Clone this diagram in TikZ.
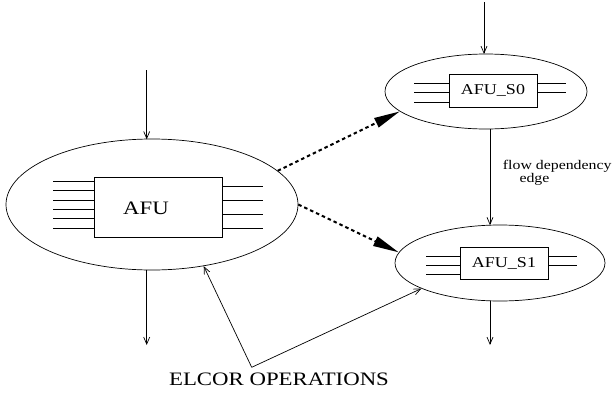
\documentclass[tikz,border=0pt]{standalone}
\usepackage{fontspec}
\setmainfont{Liberation Serif}
\usepackage{graphicx}
\usetikzlibrary{shapes.geometric,arrows.meta}
\newcommand\sx[1]{\scalebox{1.2}[1]{#1}}
\tikzset{
  oval/.style={draw, ellipse, inner sep=0pt, line width=0.7pt},
  unit/.style={draw, rectangle, inner sep=0pt, line width=0.7pt},
  pin/.style={line width=0.7pt},
  arr/.style={line width=0.7pt, -{Straight Barb[length=7pt,width=6pt]}},
  dep/.style={line width=2pt, dash pattern=on 3.5pt off 3pt, -{Triangle[length=26pt,width=10pt]}},
}
\begin{document}
\begin{tikzpicture}[x=1pt,y=-1pt]
\useasboundingbox (0,0) rectangle (614,394);
% ellipses
\node[oval, minimum width=292pt, minimum height=131pt] (E0) at (152,204.5) {};
\node[oval, minimum width=202pt, minimum height=75pt] (S0) at (486,91.5) {};
\node[oval, minimum width=210pt, minimum height=76pt] (S1) at (500,263) {};
% boxes
\node[unit, minimum width=128pt, minimum height=60pt] (B0) at (158,207) {};
\node (T0) at (146,208) {\fontsize{19}{20}\selectfont\sx{AFU}};
\node[unit, minimum width=88pt, minimum height=33pt] (B1) at (493,90.5) {\fontsize{15}{17}\selectfont\sx{AFU\_S0}};
\node[unit, minimum width=88pt, minimum height=32pt] (B2) at (504,263) {\fontsize{15}{17}\selectfont\sx{AFU\_S1}};
% pins of AFU
\foreach \y in {181.7,190.7,200,209.3,218.7,228.3} \draw[pin] (B0.west |- 0,\y) -- (53,\y);
\foreach \y in {186,200,214,228.3} \draw[pin] (B0.east |- 0,\y) -- (263,\y);
% pins of AFU_S0
\foreach \y in {83.3,92.7,102} \draw[pin] (B1.west |- 0,\y) -- (414,\y);
\foreach \y in {83.3,92.7} \draw[pin] (B1.east |- 0,\y) -- (566,\y);
% pins of AFU_S1
\foreach \y in {256,265,274.3} \draw[pin] (B2.west |- 0,\y) -- (426,\y);
\foreach \y in {256,265} \draw[pin] (B2.east |- 0,\y) -- (577,\y);
% in/out arrows
\coordinate (in0) at (146.7,70);
\coordinate (out0) at (146.7,345);
\coordinate (inS0) at (484,2);
\coordinate (outS1) at (490,345);
\draw[arr] (in0) -- (146.7,139.3);
\draw[arr] (146.7,269.7) -- (out0);
\draw[arr] (inS0) -- (484,54);
\draw[arr] (490,300.7) -- (outS1);
\draw[arr] (490,129) -- (490,225.2);
% flow label
\node[anchor=west, inner sep=0pt] (F1) at (502.7,166) {\fontsize{13.2}{14}\selectfont\sx{flow dependency}};
\node[anchor=west, inner sep=0pt] (F2) at (519.3,179) {\fontsize{13.2}{14}\selectfont\sx{edge}};
% dashed arrows
\draw[dep] (E0.15) -- (S0.193);
\draw[dep] (E0.east) -- (S1.174);
% ELCOR
\coordinate (el) at (251.7,367.3);
\draw[arr] (el) -- (E0.310.8);
\draw[arr] (el) -- (S1.198);
\node (EL) at (279,379) {\fontsize{19}{20}\selectfont\sx{ELCOR OPERATIONS}};
\end{tikzpicture}
\end{document}
